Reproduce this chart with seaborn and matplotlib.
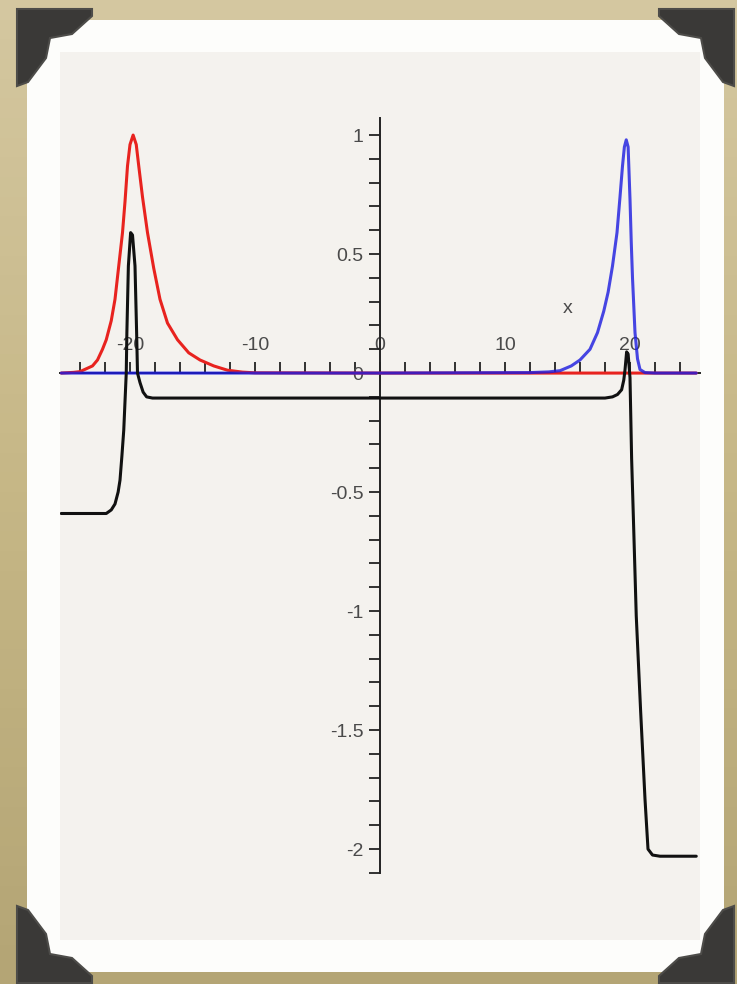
import numpy as np
import matplotlib
matplotlib.use("Agg")
import matplotlib.pyplot as plt
import seaborn as sns
from matplotlib.patches import Rectangle, Polygon

sns.set_style("white")
plt.rcParams["font.family"] = ["Liberation Sans", "DejaVu Sans"]

# red soliton (left)
red_x = [-25.5, -24.5, -24.0, -23.0, -22.6, -22.2, -21.9, -21.5, -21.2, -20.9,
         -20.6, -20.4, -20.2, -20.0, -19.75, -19.5, -19.3, -19.0, -18.6, -18.1,
         -17.6, -17.0, -16.2, -15.3, -14.4, -13.3, -12.2, -11.0, -10.0, 0.0, 25.3]
red_y = [0.0, 0.003, 0.006, 0.03, 0.055, 0.1, 0.14, 0.22, 0.31, 0.45,
         0.59, 0.72, 0.87, 0.96, 1.0, 0.96, 0.87, 0.74, 0.59, 0.44,
         0.31, 0.21, 0.14, 0.085, 0.055, 0.03, 0.012, 0.004, 0.001, 0.0, 0.0]

# blue soliton (right)
blue_x = [-25.5, 0.0, 12.0, 13.5, 14.4, 15.3, 16.0, 16.8, 17.4, 17.9, 18.25,
          18.6, 18.96, 19.2, 19.4, 19.55, 19.7, 19.85, 20.0, 20.1, 20.2,
          20.4, 20.6, 20.8, 21.2, 22.0, 25.3]
blue_y = [0.0, 0.0, 0.002, 0.005, 0.01, 0.03, 0.055, 0.1, 0.17, 0.26, 0.34,
          0.45, 0.59, 0.74, 0.87, 0.95, 0.98, 0.95, 0.73, 0.55, 0.4,
          0.17, 0.06, 0.015, 0.002, 0.0, 0.0]

# black curve
black_x = [-25.5, -22.5, -21.9, -21.5, -21.2, -20.95, -20.8, -20.65, -20.5, -20.4,
           -20.3, -20.25, -20.13, -19.95, -19.8, -19.6, -19.47, -19.4, -19.2, -18.95,
           -18.67, -18.2, 0.0, 18.0, 18.6, 19.0, 19.33, 19.5, 19.6, 19.73,
           19.85, 20.0, 20.13, 20.3, 20.5, 20.85, 21.2, 21.44, 21.8, 22.4, 25.3]
black_y = [-0.59, -0.59, -0.59, -0.575, -0.55, -0.5, -0.45, -0.35, -0.24, -0.12,
           0.0, 0.17, 0.45, 0.59, 0.58, 0.45, 0.17, 0.0, -0.04, -0.08,
           -0.1, -0.105, -0.105, -0.105, -0.1, -0.09, -0.07, -0.03, 0.013, 0.089,
           0.08, -0.02, -0.36, -0.66, -1.02, -1.42, -1.79, -2.0, -2.025, -2.03, -2.03]

x_ticks = list(range(-24, 25, 2))
x_labels = ["-20", "-10", "0", "10", "20"]
y_ticks = [round(v, 1) for v in np.arange(-2.1, 1.05, 0.1)]
y_labels = {1.0: "1", 0.5: "0.5", 0.0: "0", -0.5: "-0.5", -1.0: "-1", -1.5: "-1.5", -2.0: "-2"}

W, H = 737, 984
fig = plt.figure(figsize=(W / 100, H / 100), dpi=100)

# backdrop, photo frame and corner mounts
bg = fig.add_axes([0, 0, 1, 1], zorder=0)
bg.set_xlim(0, W)
bg.set_ylim(H, 0)
bg.axis("off")
grad = np.linspace(0, 1, 50)[:, None]
bg.imshow(grad, extent=[0, W, H, 0], aspect="auto",
          cmap=matplotlib.colors.LinearSegmentedColormap.from_list("tan", ["#d4c7a0", "#c6b786", "#b4a575"]))
bg.add_patch(Rectangle((27, 20), 697, 952, facecolor="#fdfdfb", edgecolor="none"))
mount = [(17, 9), (92, 9), (92, 16), (72, 34), (50, 38), (46, 58), (28, 82), (17, 86)]
for fx, fy in [(False, False), (True, False), (False, True), (True, True)]:
    pts = [((751 - px) if fx else px, (992 - py) if fy else py) for px, py in mount]
    bg.add_patch(Polygon(pts, closed=True, facecolor="#3a3937", edgecolor="#4d4c49", lw=1.5))

# plot area
ax = fig.add_axes([60 / W, 1 - 940 / H, 640 / W, 888 / H], zorder=1)
ax.set_facecolor("#f4f2ee")
ax.set_xlim(-25.6, 25.6)
ax.set_ylim(-2.382, 1.349)

sns.lineplot(x=red_x, y=red_y, ax=ax, color="#e8231f", lw=2.2, sort=False, estimator=None, zorder=3)
sns.lineplot(x=blue_x, y=blue_y, ax=ax, color="#1a1adf", lw=2.2, sort=False, estimator=None, zorder=3, alpha=0.8)
sns.lineplot(x=black_x, y=black_y, ax=ax, color="#111111", lw=2.2, sort=False, estimator=None, zorder=4)

for s in ["bottom", "right"]:
    ax.spines[s].set_visible(False)
ax.spines["top"].set_position(("data", 0))
ax.spines["left"].set_position(("data", 0))
ax.spines["left"].set_bounds(-2.1, 1.07)
for s in ["top", "left"]:
    ax.spines[s].set_color("#222222")
    ax.spines[s].set_linewidth(1.4)

ax.xaxis.set_ticks_position("top")
ax.yaxis.set_ticks_position("left")
ax.set_xticks(x_ticks, [str(t) if str(t) in x_labels else "" for t in x_ticks])
ax.set_yticks(y_ticks, [y_labels.get(t, "") for t in y_ticks])
ax.tick_params(axis="x", top=True, direction="out", length=8, width=1.3, color="#222222",
               labelsize=14, labelcolor="#4a4a4a", pad=6)
ax.tick_params(axis="y", left=True, direction="out", length=8, width=1.3, color="#222222",
               labelsize=14, labelcolor="#4a4a4a", pad=4)
ax.text(15, 0.27, "x", fontsize=14, color="#4a4a4a", ha="center", va="center")

fig.savefig("out.png", dpi=100)
